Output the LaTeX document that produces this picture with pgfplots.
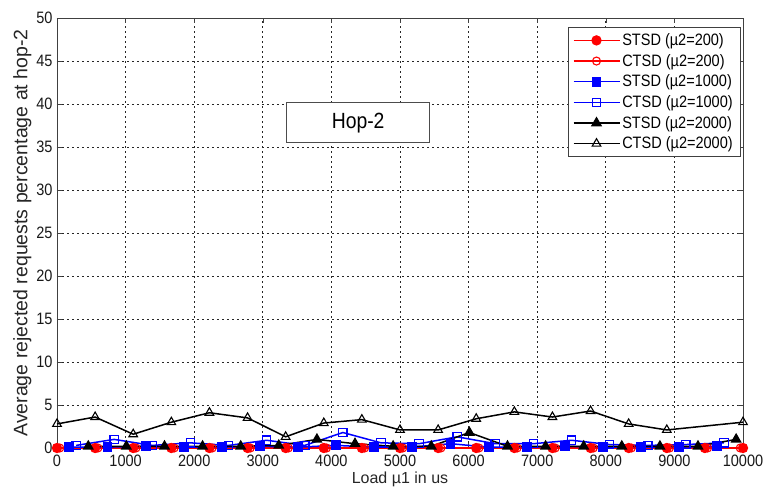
\documentclass[border=0pt]{standalone}
\usepackage{fontspec}
\setmainfont[FakeStretch=0.88]{Liberation Sans}
\newfontfamily\ylabfont{Liberation Sans}
\usepackage{pgfplots}
\pgfplotsset{compat=1.18}
\begin{document}
\begin{tikzpicture}
\begin{axis}[
  scale only axis,
  width=686pt, height=430pt,
  xmin=0, xmax=10000, ymin=0, ymax=50,
  xtick={0,1000,...,10000},
  ytick={0,5,...,50},
  scaled x ticks=false,
  /pgf/number format/1000 sep={},
  /pgf/number format/assume math mode=true,
  tick align=inside,
  major tick length=5pt,
  tick style={black!75, line width=0.6pt},
  axis line style={black!75, line width=0.8pt},
  grid=major,
  major grid style={black!85, line width=0.7pt, dash pattern=on 2.2pt off 2.8pt},
  ticklabel style={font=\fontsize{16.5}{18}\selectfont, text=black!90},
  xticklabel style={yshift=-3pt},
  yticklabel style={xshift=-1pt},
  xlabel={\ylabfont Load µ1 in us},
  xlabel style={font=\fontsize{16}{17}\selectfont, text=black!85, yshift=1.5pt},
  ylabel={\ylabfont Average rejected requests percentage at hop-2},
  ylabel style={font=\fontsize{19.5}{21}\selectfont, text=black!85, yshift=-2pt},
  clip=false,
  legend cell align=left,
  legend style={at={(0.9955,0.978)}, anchor=north east, draw=black!75,
    font=\fontsize{16.5}{18}\selectfont, row sep=3.2pt, inner xsep=5pt, inner ysep=4pt,
    /tikz/every even column/.append style={column sep=2pt}},
  legend image code/.code={\draw[mark repeat=2,mark phase=2] plot coordinates {(0pt,0pt) (23pt,0pt) (46pt,0pt)};},
]
% STSD (mu2=200)
\addplot[red, line width=1.5pt, mark=*, mark size=4.4pt, mark options={solid, fill=red}] coordinates {
(0,0) (556,0) (1111,0) (1667,0) (2222,0) (2778,0) (3333,0) (3889,0) (4444,0) (5000,0)
(5556,0) (6111,0) (6667,0) (7222,0) (7778,0) (8333,0) (8889,0) (9444,0) (10000,0)};
\addlegendentry{STSD (µ2=200)}
% CTSD (mu2=200)
\addplot[red, line width=1.5pt, mark=o, mark size=4pt, mark options={solid, line width=1.1pt}] coordinates {
(40,0) (596,0) (1151,0) (1707,0) (2262,0) (2818,0) (3373,0) (3929,0) (4484,0) (5040,0)
(5596,0) (6151,0) (6707,0) (7262,0) (7818,0) (8373,0) (8929,0) (9484,0) (9960,0)};
\addlegendentry{CTSD (µ2=200)}
% STSD (mu2=1000)
\addplot[blue, line width=1.5pt, mark=square*, mark size=4.2pt, mark options={solid, fill=blue}] coordinates {
(180,0.1) (736,0.1) (1291,0.2) (1847,0.1) (2402,0.1) (2958,0.2) (3513,0.1) (4069,0.3) (4624,0.1) (5180,0.1)
(5736,0.5) (6291,0.1) (6847,0.1) (7402,0.2) (7958,0.1) (8513,0.1) (9069,0.1) (9624,0.2)};
\addlegendentry{STSD (µ2=1000)}
% CTSD (mu2=1000)
\addplot[blue, line width=1.5pt, mark=square, mark size=4.2pt, mark options={solid, line width=1.2pt}] coordinates {
(278,0.3) (833,1.0) (1389,0.3) (1944,0.6) (2500,0.3) (3056,0.9) (3611,0.3) (4167,1.8) (4722,0.6) (5278,0.5)
(5833,1.3) (6389,0.5) (6944,0.5) (7500,0.9) (8056,0.4) (8611,0.3) (9167,0.4) (9722,0.6)};
\addlegendentry{CTSD (µ2=1000)}
% STSD (mu2=2000)
\addplot[black, line width=1.5pt, mark=triangle*, mark size=5pt, mark options={solid, fill=black}] coordinates {
(456,0.2) (1011,0.2) (1567,0.2) (2122,0.2) (2678,0.2) (3233,0.3) (3789,1.0) (4344,0.5) (4900,0.2) (5456,0.2)
(6011,1.8) (6567,0.2) (7122,0.2) (7678,0.2) (8233,0.2) (8789,0.2) (9344,0.2) (9900,1.0)};
\addlegendentry{STSD (µ2=2000)}
% CTSD (mu2=2000)
\addplot[black, line width=1.5pt, mark=triangle, mark size=5pt, mark options={solid, line width=1.1pt}] coordinates {
(0,2.8) (556,3.6) (1111,1.6) (1667,3.0) (2222,4.1) (2778,3.5) (3333,1.3) (3889,2.9) (4444,3.3) (5000,2.1)
(5556,2.1) (6111,3.4) (6667,4.2) (7222,3.6) (7778,4.3) (8333,2.8) (8889,2.1) (10000,3.0)};
\addlegendentry{CTSD (µ2=2000)}
\node[draw=black!70, line width=1pt, fill=white, minimum width=143pt, minimum height=40pt,
  font=\fontsize{22}{26}\selectfont] at (axis cs:4390,37.8) {Hop-2};
\end{axis}
\pgfresetboundingbox
\path (-57pt,-42pt) rectangle (707pt,448pt);
\end{tikzpicture}
\end{document}
